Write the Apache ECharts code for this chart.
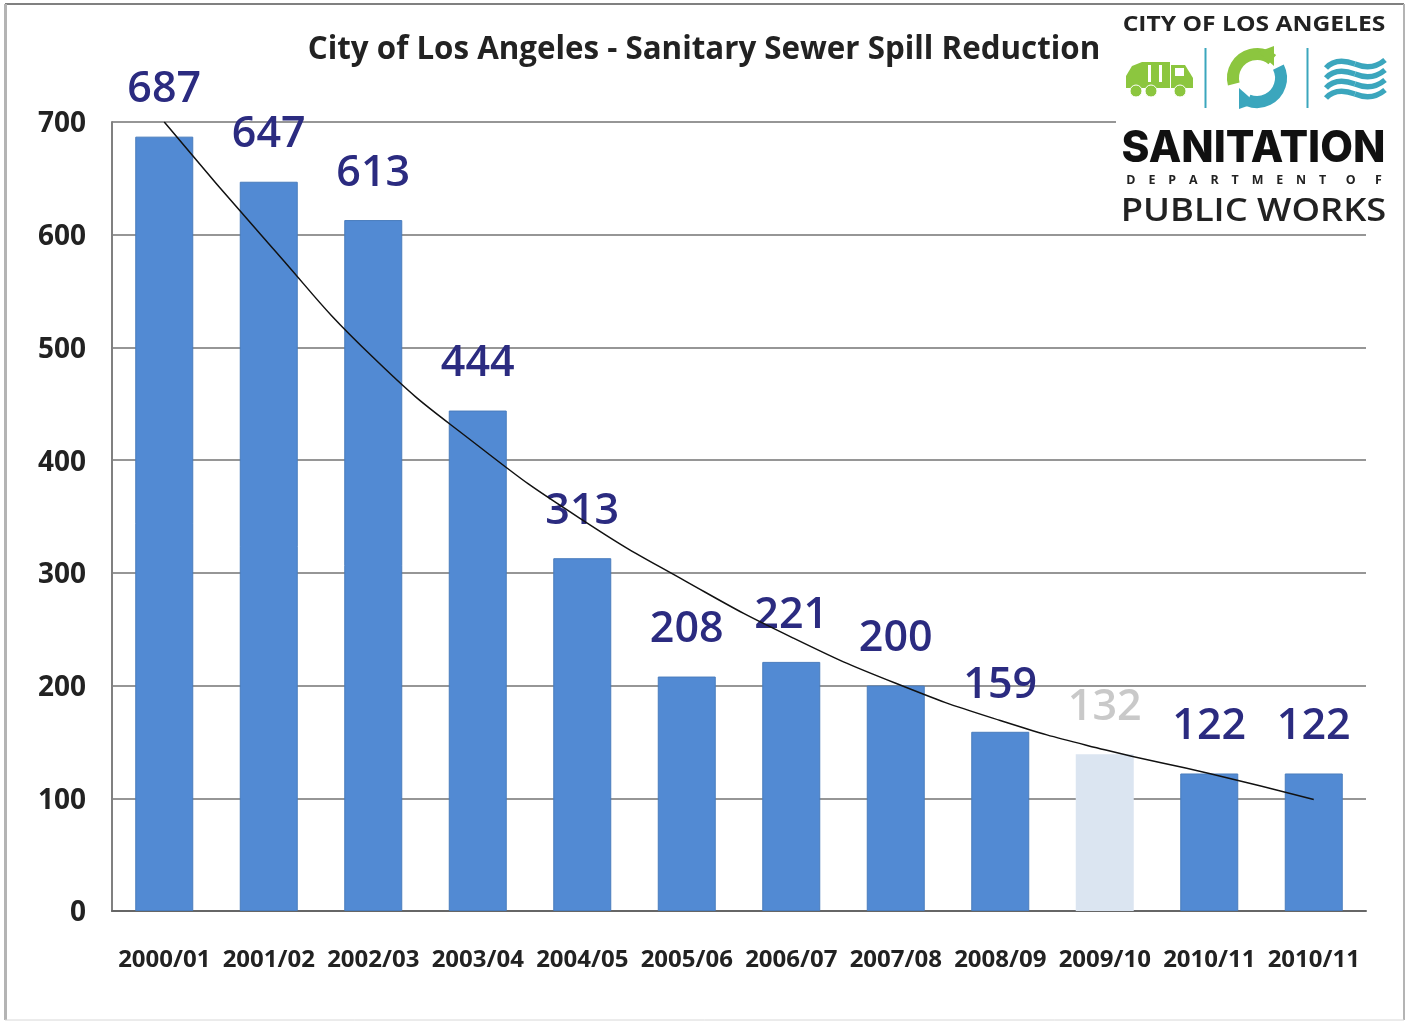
<!DOCTYPE html>
<html>
<head>
<meta charset="utf-8">
<title>City of Los Angeles - Sanitary Sewer Spill Reduction</title>
<style>
html, body { margin: 0; padding: 0; background: #fff; }
#main { width: 1408px; height: 1021px; }
</style>
<script src="https://cdn.jsdelivr.net/npm/echarts@6/dist/echarts.min.js"></script>
</head>
<body>
<div id="main"></div>
<script>
var years = ['2000/01', '2001/02', '2002/03', '2003/04', '2004/05', '2005/06', '2006/07', '2007/08', '2008/09', '2009/10', '2010/11', '2010/11'];
// bar heights as drawn: the 2009/10 bar stands taller than its printed 132
var spills = [687, 647, 613, 444, 313, 208, 221, 200, 159, 139, 122, 122];
var printedLabels = ['687', '647', '613', '444', '313', '208', '221', '200', '159', '132', '122', '122'];
var trend = [700, 592, 491, 413, 347, 292, 243, 202, 169, 143, 122, 99];
var yTicks = [0, 100, 200, 300, 400, 500, 600, 700];
var lightYear = 9;

var FONT = '"Open Sans", sans-serif';
var TEAL = '#3ba6bd';
var GREEN = '#8cc63f';

var chart = echarts.init(document.getElementById('main'));

// logo + page frame, all plain graphic elements
var logo = [
    { type: 'rect', shape: { x: 1116, y: 8, width: 284, height: 216 }, style: { fill: '#fff' } },
    { type: 'text', x: 1254, y: 25, scaleX: 1.145, style: { text: 'CITY OF LOS ANGELES', font: '700 21.5px ' + FONT, fill: '#222', align: 'center', verticalAlign: 'middle' } },
    { type: 'line', shape: { x1: 1205.5, y1: 48, x2: 1205.5, y2: 108 }, style: { stroke: TEAL, lineWidth: 2 } },
    { type: 'line', shape: { x1: 1307.5, y1: 48, x2: 1307.5, y2: 108 }, style: { stroke: TEAL, lineWidth: 2 } },
    // truck
    { type: 'polygon', shape: { points: [[1126, 88], [1126, 76], [1132, 66], [1142, 62], [1170, 62], [1170, 88]] }, style: { fill: GREEN } },
    { type: 'polygon', shape: { points: [[1171, 88], [1171, 65], [1185, 65], [1193, 78], [1193, 88]] }, style: { fill: GREEN } },
    { type: 'rect', shape: { x: 1175, y: 68, width: 9, height: 8 }, style: { fill: '#fff' } },
    { type: 'rect', shape: { x: 1148, y: 65, width: 3, height: 17 }, style: { fill: '#fff' } },
    { type: 'rect', shape: { x: 1159, y: 65, width: 3, height: 17 }, style: { fill: '#fff' } },
    { type: 'circle', shape: { cx: 1136, cy: 91, r: 6 }, style: { fill: GREEN, stroke: '#fff', lineWidth: 1 } },
    { type: 'circle', shape: { cx: 1151, cy: 91, r: 6 }, style: { fill: GREEN, stroke: '#fff', lineWidth: 1 } },
    { type: 'circle', shape: { cx: 1180, cy: 91, r: 6 }, style: { fill: GREEN, stroke: '#fff', lineWidth: 1 } },
    // recycling arrows
    { type: 'arc', shape: { cx: 1257, cy: 78, r: 24, startAngle: Math.PI * 0.92, endAngle: Math.PI * 1.72 }, style: { stroke: GREEN, lineWidth: 12, fill: null } },
    { type: 'polygon', shape: { points: [[1274, 46], [1274, 66], [1258, 52]] }, style: { fill: GREEN } },
    { type: 'arc', shape: { cx: 1257, cy: 78, r: 24, startAngle: Math.PI * 1.85, endAngle: Math.PI * 0.62 }, style: { stroke: TEAL, lineWidth: 12, fill: null } },
    { type: 'polygon', shape: { points: [[1239, 109], [1239, 88], [1256, 103]] }, style: { fill: TEAL } },
    { type: 'text', x: 1253.5, y: 149, scaleX: 0.963, style: { text: 'SANITATION', font: '800 44px Inter, ' + FONT, fill: '#111', align: 'center', verticalAlign: 'middle' } },
    { type: 'text', x: 1254, y: 181, scaleX: 1.08, style: { text: 'D    E    P    A    R    T    M    E    N    T      O      F', font: '700 11.5px ' + FONT, fill: '#222', align: 'center', verticalAlign: 'middle' } },
    { type: 'text', x: 1253.5, y: 212, scaleX: 1.1, style: { text: 'PUBLIC WORKS', font: '600 33px ' + FONT, fill: '#222', align: 'center', verticalAlign: 'middle' } },
    // frame
    { type: 'line', shape: { x1: 5, y1: 4, x2: 1404, y2: 4 }, style: { stroke: '#808080', lineWidth: 2 } },
    { type: 'line', shape: { x1: 5.5, y1: 4, x2: 5.5, y2: 1020 }, style: { stroke: '#b4b4b4', lineWidth: 3 } },
    { type: 'line', shape: { x1: 1404, y1: 4, x2: 1404, y2: 1020 }, style: { stroke: '#b4b4b4', lineWidth: 2 } },
    { type: 'line', shape: { x1: 5, y1: 1020, x2: 1404, y2: 1020 }, style: { stroke: '#d8d8d8', lineWidth: 1 } }
];
// the four wave bands
[60, 70, 80, 90].forEach(function (top) {
    var waveStyle = { stroke: TEAL, lineWidth: 5.5, fill: null };
    logo.push({ type: 'bezierCurve', shape: { x1: 1326, y1: top + 8, cpx1: 1336, cpy1: top - 3, x2: 1355, y2: top + 4 }, style: waveStyle });
    logo.push({ type: 'bezierCurve', shape: { x1: 1355, y1: top + 4, cpx1: 1372, cpy1: top + 11, x2: 1385, y2: top }, style: waveStyle });
});
logo.forEach(function (item) { item.z = 20; item.silent = true; });

var option = {
    animation: false,
    backgroundColor: '#fff',
    textStyle: { fontFamily: FONT },
    title: {
        text: 'City of Los Angeles - Sanitary Sewer Spill Reduction',
        left: 699,
        top: 30,
        textAlign: 'center',
        textStyle: { fontFamily: FONT, fontSize: 31.3, fontWeight: 700, color: '#222' }
    },
    grid: { left: 112, top: 122, width: 1254, height: 789, containLabel: false },
    xAxis: {
        type: 'category',
        data: years,
        axisTick: { show: false },
        axisLine: { lineStyle: { color: '#666', width: 2 } },
        axisLabel: { fontFamily: FONT, fontSize: 24, fontWeight: 700, color: '#222', margin: 37, interval: 0 }
    },
    yAxis: {
        type: 'value',
        min: 0,
        max: 700,
        interval: 100,
        axisTick: { show: false },
        axisLine: { show: true, lineStyle: { color: '#808080', width: 2 } },
        axisLabel: {
            margin: 26,
            formatter: function (val) { return yTicks.indexOf(val) >= 0 ? '{tick|' + val + '}' : ''; },
            rich: {
                tick: { fontFamily: FONT, fontSize: 28, fontWeight: 700, color: '#222', padding: [5, 0, 0, 0] }
            }
        },
        splitLine: { lineStyle: { color: '#969696', width: 2 } }
    },
    series: [{
        type: 'bar',
        barWidth: 58,
        z: 2,
        data: spills.map(function (v, i) {
            var light = i === lightYear;
            return {
                value: v,
                itemStyle: light ? { color: '#dbe5f1' } : { color: '#528ad3', borderColor: '#4a7dbd', borderWidth: 1 },
                label: { color: light ? '#c9c9c9' : '#2b2b80' }
            };
        }),
        label: {
            show: true,
            position: 'top',
            distance: 25,
            fontFamily: FONT,
            fontSize: 43,
            fontWeight: 600,
            formatter: function (p) { return printedLabels[p.dataIndex]; }
        }
    }, {
        type: 'line',
        data: trend,
        smooth: true,
        symbol: 'none',
        z: 3,
        lineStyle: { color: '#111', width: 1.5 }
    }],
    graphic: { elements: logo }
};
chart.setOption(option);
</script>
</body>
</html>
